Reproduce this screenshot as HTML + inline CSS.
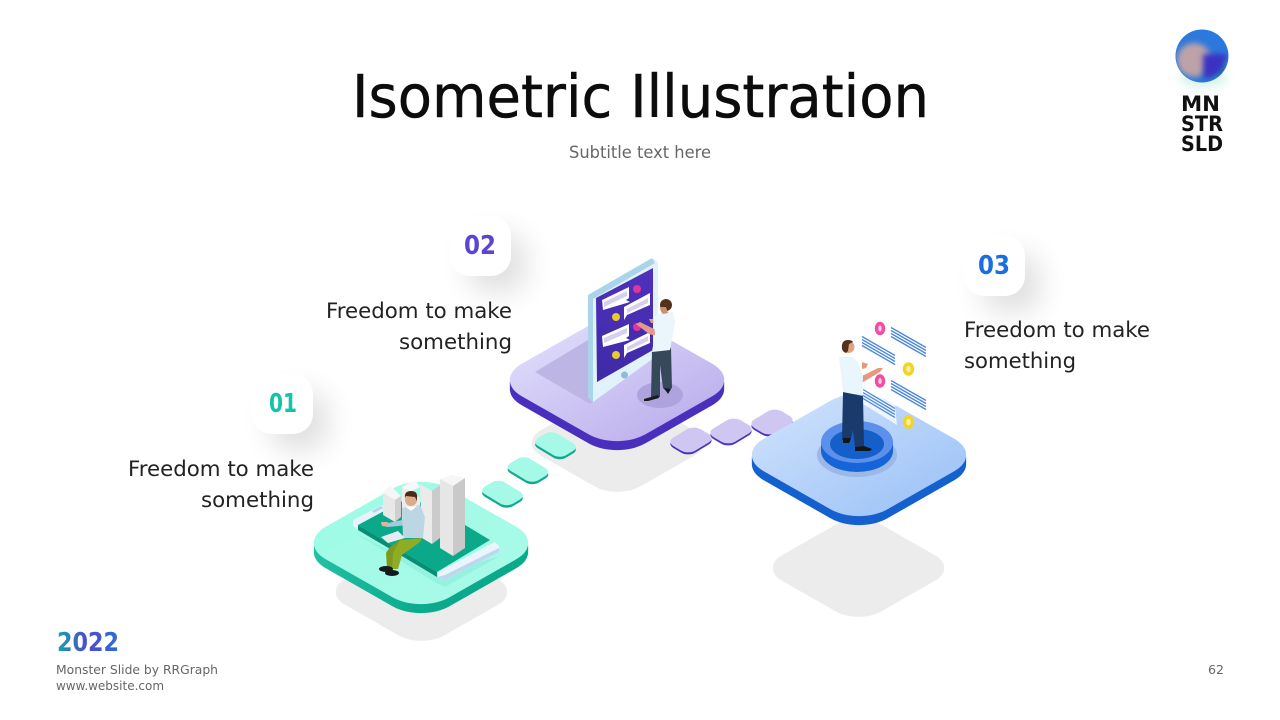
<!DOCTYPE html>
<html><head><meta charset="utf-8"><title>Isometric Illustration</title>
<style>html,body{margin:0;padding:0;background:#fff}svg{display:block}text{font-family:"DejaVu Sans","Liberation Sans",sans-serif}</style></head>
<body>
<svg width="1280" height="720" viewBox="0 0 1280 720" xmlns="http://www.w3.org/2000/svg">
<defs>
<rect id="big" x="-87.500" y="-87.500" width="175" height="175" rx="40"/>
<rect id="sh" x="-70" y="-70" width="140" height="140" rx="32"/>
<rect id="mt" x="-20" y="-14" width="40" height="28" rx="9"/>
<rect id="pt" x="-15.500" y="-19.500" width="31" height="39" rx="10"/>
<linearGradient id="gt" x1="0" y1="0" x2="1" y2="0"><stop offset="0" stop-color="#9ffbe6"/><stop offset="1" stop-color="#a8fae8"/></linearGradient>
<linearGradient id="gs" x1="0" y1="0" x2="1" y2="0"><stop offset="0" stop-color="#25c4aa"/><stop offset="1" stop-color="#0aa98c"/></linearGradient>
<linearGradient id="pp" x1="0" y1="0" x2="1" y2="0"><stop offset="0" stop-color="#dad6f9"/><stop offset="1" stop-color="#c0b4ee"/></linearGradient>
<linearGradient id="bt" x1="0" y1="0" x2="1" y2="0"><stop offset="0" stop-color="#c6dcfb"/><stop offset="1" stop-color="#a4c7f8"/></linearGradient>
<linearGradient id="scr" x1="0" y1="0" x2="0" y2="1"><stop offset="0" stop-color="#4f31bd"/><stop offset="1" stop-color="#3f2aa6"/></linearGradient>
<linearGradient id="yr" x1="0" y1="0" x2="1" y2="0"><stop offset="0" stop-color="#14a5a8"/><stop offset=".5" stop-color="#5148cc"/><stop offset="1" stop-color="#2a6fd6"/></linearGradient>
<filter id="b8" x="-80%" y="-80%" width="260%" height="260%"><feGaussianBlur stdDeviation="14"/></filter>
<filter id="b4" x="-60%" y="-60%" width="220%" height="220%"><feGaussianBlur stdDeviation="5"/></filter>
<filter id="b3" x="-60%" y="-60%" width="220%" height="220%"><feGaussianBlur stdDeviation="3"/></filter>
<clipPath id="orb"><circle cx="1202" cy="56" r="26"/></clipPath>
</defs>

<!-- Title -->
<text x="352" y="117" font-size="59" fill="#0c0c0c" stroke="#0c0c0c" stroke-width=".5" textLength="577" lengthAdjust="spacingAndGlyphs">Isometric Illustration</text>
<text x="569" y="158" font-size="17" fill="#666" textLength="142" lengthAdjust="spacingAndGlyphs">Subtitle text here</text>

<!-- Logo -->
<ellipse cx="1203" cy="78" rx="24" ry="9" fill="#a8e6d8" opacity=".5" filter="url(#b4)"/>
<circle cx="1202" cy="56" r="26.500" fill="#2c78dc"/>
<g clip-path="url(#orb)">
<circle cx="1194" cy="60" r="17" fill="#bda3a8" filter="url(#b3)"/>
<rect x="1203" y="54" width="24" height="24" fill="#3b30c2" filter="url(#b3)"/>
<path d="M1212 80a26 26 0 0 0 16-20" stroke="#1fb0b4" stroke-width="3" fill="none" filter="url(#b3)"/>
</g>
<g font-size="21" font-weight="700" fill="#111">
<text x="1181" y="111" textLength="39" lengthAdjust="spacingAndGlyphs">MN</text>
<text x="1181" y="131" textLength="42" lengthAdjust="spacingAndGlyphs">STR</text>
<text x="1181" y="151" textLength="42" lengthAdjust="spacingAndGlyphs">SLD</text>
</g>

<!-- Ground shadows -->
<g fill="#ececec">
<use href="#sh" transform="translate(421.500,592) scale(1,.57) rotate(45)"/>
<use href="#sh" transform="translate(617.500,443) scale(1,.57) rotate(45)"/>
<use href="#sh" transform="translate(858.500,568) scale(1,.57) rotate(45)"/>
</g>

<!-- Mint tiles -->
<g fill="#0fa98f">
<use href="#mt" transform="translate(555.500,447) scale(1,.6) rotate(45)"/>
<use href="#mt" transform="translate(528,472) scale(1,.6) rotate(45)"/>
<use href="#mt" transform="translate(502.500,495.500) scale(1,.6) rotate(45)"/>
</g>
<g fill="#a5f9e6">
<use href="#mt" transform="translate(555.500,444.500) scale(1,.6) rotate(45)"/>
<use href="#mt" transform="translate(528,469.500) scale(1,.6) rotate(45)"/>
<use href="#mt" transform="translate(502.500,493) scale(1,.6) rotate(45)"/>
</g>

<!-- Green platform -->
<g fill="url(#gs)">
<use href="#big" transform="translate(421,552) scale(1,.57) rotate(45)"/>
<use href="#big" transform="translate(421,550) scale(1,.57) rotate(45)"/>
<use href="#big" transform="translate(421,548) scale(1,.57) rotate(45)"/>
<use href="#big" transform="translate(421,546) scale(1,.57) rotate(45)"/>
</g>
<use href="#big" fill="url(#gt)" transform="translate(421,543) scale(1,.57) rotate(45)"/>
<polygon points="355,533 438,584 445,587 500,556 438,575" fill="#8feeda" opacity=".7"/>
<polygon points="353,520 382,505 387,510 358,525 358,530 353,526" fill="#e6f3fb"/>
<polygon points="372,511 381,506 383,508 374,513" fill="#b6d3e8"/>
<polygon points="358,525 410,497 465,525 490,540 437,572" fill="#0aa98a"/>
<polygon points="358,525 437,572 437,577 358,530" fill="#078f76"/>
<polygon points="438,572 495,542 499,546 499,552 445,580 438,577" fill="#eaf4fc"/>
<polygon points="438,577 445,580 499,552 499,548 445,575" fill="#bcd8ee"/>
<!-- buildings -->
<polygon points="402,487 415,480 420,487 408,493" fill="#f7f7f7"/>
<polygon points="402,487 420,497 420,530 402,520" fill="#ececec"/>
<polygon points="383,493 390,485 401,496 395,500" fill="#f6f6f6"/>
<polygon points="383,493 395,500 395,522 383,515" fill="#e8e8e8"/>
<polygon points="395,500 401,496 401,517 395,522" fill="#cfcfcf"/>
<polygon points="420,484 432,491 432,544 422,538" fill="#ebebeb"/>
<polygon points="432,491 440,485 440,538 432,544" fill="#cbcbcb"/>
<polygon points="440,479 452,475 465,478 453,486" fill="#f6f6f6"/>
<polygon points="440,479 453,486 453,556 440,548" fill="#e6e6e6"/>
<polygon points="453,486 465,478 465,548 453,556" fill="#c9c9c9"/>
<!-- seated man -->
<polygon points="402,520 388,523 381,523 382,525 388,527 408,525" fill="#a9c7d8"/>
<polygon points="381,522 388,522 388,527 382,526" fill="#dcb497"/>
<polygon points="402,508 420,505 425,517 423,538 403,538" fill="#bcd6e4"/>
<polygon points="406,507 417,506 411,511" fill="#fff"/>
<polygon points="387,568 386,553 390,547 400,540 404,547 395,555 393,568" fill="#7e9a1e"/>
<polygon points="400,540 422,538 420,542 402,555 398,569 392,569 393,553" fill="#90ac24"/>
<polygon points="381,537 398,531 405,538 388,543" fill="#e8ebf0"/>
<ellipse cx="386" cy="569" rx="7" ry="3" fill="#15191f"/>
<ellipse cx="392" cy="573" rx="7" ry="3" fill="#15191f"/>
<circle cx="411" cy="500" r="6" fill="#dcab8a"/>
<path d="M405 498q-1-7 6-7 7 0 6 7l0 3-2-4-9-1z" fill="#4a2a18"/>

<!-- Purple tiles -->
<g fill="#4a32c0">
<use href="#pt" transform="translate(772,424) scale(1,.6) rotate(45)"/>
<use href="#pt" transform="translate(731,433) scale(1,.6) rotate(45)"/>
<use href="#pt" transform="translate(691,442) scale(1,.6) rotate(45)"/>
</g>
<g fill="#cfc6f2">
<use href="#pt" transform="translate(772,422) scale(1,.6) rotate(45)"/>
<use href="#pt" transform="translate(731,431) scale(1,.6) rotate(45)"/>
<use href="#pt" transform="translate(691,440) scale(1,.6) rotate(45)"/>
</g>

<!-- Purple platform -->
<g fill="#4a2fbe">
<use href="#big" transform="translate(617,389) scale(1,.57) rotate(45)"/>
<use href="#big" transform="translate(617,387) scale(1,.57) rotate(45)"/>
<use href="#big" transform="translate(617,385) scale(1,.57) rotate(45)"/>
<use href="#big" transform="translate(617,383) scale(1,.57) rotate(45)"/>
</g>
<use href="#big" fill="url(#pp)" transform="translate(617,380) scale(1,.57) rotate(45)"/>
<polygon points="535,372 588,340 593,402 590,404" fill="#bdb6e4"/>
<ellipse cx="660" cy="395" rx="23" ry="13" fill="#aea3dd"/>
<!-- tablet -->
<polygon points="588,295 652,258 658,262 658,355 593,402 588,397" fill="#e2f2fa"/>
<polygon points="588,295 652,258 655,263 593,299 593,402 588,397" fill="#a9d5ea"/>
<polygon points="596,298 653,268 653,350 597,382" fill="url(#scr)"/>
<circle cx="624.500" cy="375" r="3.500" fill="#8fbcd6"/>
<g fill="#fff">
<polygon points="602,300 629,287 629,298 626,300 630,302 603,310"/>
<polygon points="624,307 650,293 650,305 627,315 624,320"/>
<polygon points="602,336 629,324 629,336 626,338 630,340 603,347"/>
<polygon points="624,345 650,332 650,343 627,353 624,358"/>
</g>
<g fill="#d5d0ee">
<polygon points="604,302 627,291 627,296 604,307"/>
<polygon points="627,309 648,298 648,303 627,313"/>
<polygon points="604,338 627,328 627,333 604,343"/>
<polygon points="627,347 648,336 648,341 627,351"/>
</g>
<circle cx="637" cy="289" r="4" fill="#e0359c"/>
<circle cx="616" cy="317" r="4" fill="#e9c92e"/>
<circle cx="637" cy="327" r="4" fill="#e0359c"/>
<circle cx="616" cy="355" r="4" fill="#e9c92e"/>
<!-- standing man -->
<polygon points="636,324 640,322 656,330 656,336 649,334" fill="#e39a8c"/>
<polygon points="649,319 657,319 657,323 651,323" fill="#e0a080"/>
<polygon points="652,351 671,348 672,388 667,392 663,388 660,365 660,397 651,397" fill="#35495a"/>
<polygon points="653,318 662,312 673,312 675,322 670,350 652,352 655,333" fill="#eaf6fb"/>
<polygon points="644,399 658,395 659,398 648,401 644,401" fill="#16191f"/>
<polygon points="664,388 671,389 668,394" fill="#16191f"/>
<circle cx="666" cy="305" r="6" fill="#55311c"/>
<path d="M660 307q0 4 3 7l5-1-2-6z" fill="#c8906e"/>

<!-- Blue platform -->
<g fill="#1460cf">
<use href="#big" transform="translate(859,464) scale(1,.57) rotate(45)"/>
<use href="#big" transform="translate(859,462) scale(1,.57) rotate(45)"/>
<use href="#big" transform="translate(859,460) scale(1,.57) rotate(45)"/>
<use href="#big" transform="translate(859,458) scale(1,.57) rotate(45)"/>
</g>
<use href="#big" fill="url(#bt)" transform="translate(859,455) scale(1,.57) rotate(45)"/>
<!-- panels -->
<polygon points="863,388 895,405 897,425 863,404" fill="#fff" opacity=".75"/>
<polygon points="891,380 926,398 926,412 891,395" fill="#fff" opacity=".5"/>
<g stroke="#4a86da" stroke-width="1.300" fill="none">
<path d="M862 336.500l33 19M862 339.500l33 19M862 342.500l33 19M862 345.500l33 19"/>
<path d="M891 327.500l35 20M891 330.500l35 20M891 333.500l35 20M891 336.500l35 20"/>
<path d="M863 389.500l32 19M863 392.500l32 19M863 395.500l32 19M863 398.500l32 19"/>
<path d="M891 380.500l35 20M891 383.500l35 20M891 386.500l35 20M891 389.500l35 20"/>
</g>
<g stroke-width="3.500">
<ellipse cx="880" cy="328.500" rx="3.500" ry="5" stroke="#ee4fa3" fill="#f9c6e0"/>
<ellipse cx="908.500" cy="369" rx="4" ry="5" stroke="#f1d524" fill="#faefa8"/>
<ellipse cx="880" cy="381" rx="3.500" ry="5" stroke="#ee4fa3" fill="#f9c6e0"/>
<ellipse cx="908.500" cy="422" rx="4" ry="5" stroke="#f1d524" fill="#faefa8"/>
</g>
<!-- disk -->
<ellipse cx="857" cy="455" rx="40" ry="22" fill="#9db8e6"/>
<ellipse cx="857" cy="451" rx="36" ry="21" fill="#1565d8"/>
<rect x="821" y="442" width="72" height="9" fill="#1565d8"/>
<ellipse cx="857" cy="442" rx="36" ry="21" fill="#5c90ea"/>
<ellipse cx="857" cy="444" rx="27" ry="15" fill="#155fc8"/>
<!-- man 3 -->
<polygon points="843,392 863,396 864,446 855,447 853,430 850,442 842,440" fill="#1a3a6b"/>
<polygon points="855,447 864,446 872,449 870,451 855,451" fill="#13171c"/>
<polygon points="843,438 851,438 849,443 843,443" fill="#13171c"/>
<polygon points="858,378 878,368 883,368 880,372 865,381 861,383" fill="#e59a80"/>
<polygon points="862,362 868,364 866,368 862,369" fill="#e59a80"/>
<polygon points="839,357 852,357 858,362 863,377 862,395 843,392" fill="#e9f6fb"/>
<circle cx="848.500" cy="347" r="6" fill="#e2a282"/>
<path d="M842 349q-1-9 6-9 4 0 5 2l-4 2-1 7-2 2q-3-1-4-4z" fill="#55301c"/>

<!-- Badges -->
<g fill="#000" opacity=".12" filter="url(#b8)">
<rect x="270" y="392" width="58" height="58" rx="18"/>
<rect x="468" y="234" width="58" height="58" rx="18"/>
<rect x="982" y="254" width="58" height="58" rx="18"/>
</g>
<g fill="#fff">
<rect x="252" y="374" width="61" height="60" rx="20"/>
<rect x="450" y="216" width="61" height="60" rx="20"/>
<rect x="964" y="236" width="61" height="60" rx="20"/>
</g>
<g font-size="26" font-weight="700">
<text x="269" y="412" fill="#12c4aa" textLength="28" lengthAdjust="spacingAndGlyphs">01</text>
<text x="464" y="254" fill="#5a46d2" textLength="32" lengthAdjust="spacingAndGlyphs">02</text>
<text x="978" y="274" fill="#1b6ee0" textLength="32" lengthAdjust="spacingAndGlyphs">03</text>
</g>

<!-- Labels -->
<g font-size="21" fill="#222">
<text x="128" y="476" textLength="186" lengthAdjust="spacingAndGlyphs">Freedom to make</text>
<text x="201" y="507" textLength="113" lengthAdjust="spacingAndGlyphs">something</text>
<text x="326" y="318" textLength="186" lengthAdjust="spacingAndGlyphs">Freedom to make</text>
<text x="399" y="349" textLength="113" lengthAdjust="spacingAndGlyphs">something</text>
<text x="964" y="337" textLength="186" lengthAdjust="spacingAndGlyphs">Freedom to make</text>
<text x="964" y="368" textLength="112" lengthAdjust="spacingAndGlyphs">something</text>
</g>

<!-- Footer -->
<text x="57" y="651" font-size="26" font-weight="700" fill="url(#yr)" textLength="62" lengthAdjust="spacingAndGlyphs">2022</text>
<g font-size="12.500" fill="#666">
<text x="56" y="674" textLength="162" lengthAdjust="spacingAndGlyphs">Monster Slide  by RRGraph</text>
<text x="56" y="690" textLength="108" lengthAdjust="spacingAndGlyphs">www.website.com</text>
<text x="1208" y="674" textLength="16" lengthAdjust="spacingAndGlyphs">62</text>
</g>
</svg>
</body></html>
